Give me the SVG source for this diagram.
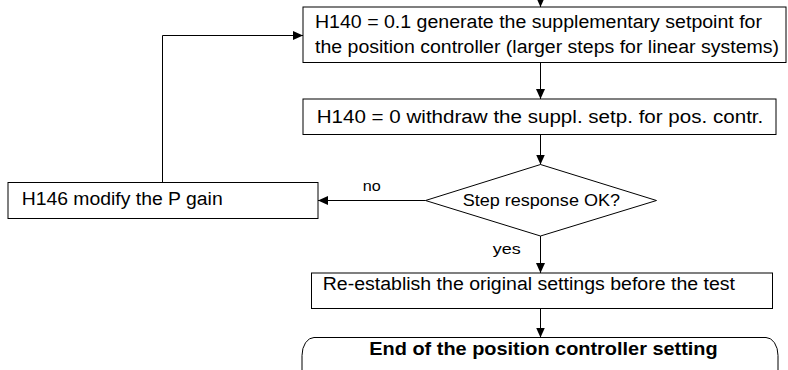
<svg xmlns="http://www.w3.org/2000/svg" width="788" height="370" viewBox="0 0 788 370">
  <style>
    .box { fill: #fff; stroke: #000; stroke-width: 1; }
    .line { fill: none; stroke: #000; stroke-width: 1; }
    .t { font-family: "Liberation Sans", Arial, sans-serif; font-size: 18px; fill: #000; }
    .small { font-size: 15px; }
    .dia { font-size: 17px; }
    .bold { font-weight: bold; }
  </style>
  <defs>
    <marker id="arrow" viewBox="0 0 10 10" refX="10" refY="5" markerWidth="10" markerHeight="10" markerUnits="userSpaceOnUse" orient="auto">
      <path d="M0,0.5 L10,5 L0,9.5 z" fill="#000"/>
    </marker>
  </defs>

  <g id="connectors">
    <path class="line" d="M540.5,0 V7" marker-end="url(#arrow)"/>
    <path class="line" d="M540.5,62.5 V99" marker-end="url(#arrow)"/>
    <path class="line" d="M540.5,134.5 V164.5" marker-end="url(#arrow)"/>
    <path class="line" d="M425.5,200.5 H318" marker-end="url(#arrow)"/>
    <path class="line" d="M162.5,182.5 V35.5 H303" marker-end="url(#arrow)"/>
    <path class="line" d="M540.5,236 V273" marker-end="url(#arrow)"/>
    <path class="line" d="M540.5,308.5 V337.5" marker-end="url(#arrow)"/>
    <text class="t small" x="362.7" y="191" textLength="18" lengthAdjust="spacingAndGlyphs">no</text>
    <text class="t small" x="492.7" y="254" textLength="28" lengthAdjust="spacingAndGlyphs">yes</text>
  </g>

  <g id="supplementary-setpoint">
    <rect class="box" x="303" y="7" width="483" height="55.5"/>
    <text class="t" x="315" y="27.5" textLength="447" lengthAdjust="spacingAndGlyphs">H140 = 0.1 generate the supplementary setpoint for</text>
    <text class="t" x="315" y="53" textLength="464" lengthAdjust="spacingAndGlyphs">the position controller (larger steps for linear systems)</text>
  </g>

  <g id="withdraw-setpoint">
    <rect class="box" x="303" y="99" width="473" height="35.5"/>
    <text class="t" x="316.7" y="123.3" textLength="446.6" lengthAdjust="spacingAndGlyphs">H140 = 0 withdraw the suppl. setp. for pos. contr.</text>
  </g>

  <g id="step-response">
    <polygon class="box" points="540.5,164.5 656.5,200.5 540.5,236 425.5,200.5"/>
    <text class="t dia" x="462.7" y="205.5" textLength="157.3" lengthAdjust="spacingAndGlyphs">Step response OK?</text>
  </g>

  <g id="modify-gain">
    <rect class="box" x="8" y="182.5" width="310" height="36"/>
    <text class="t" x="21.7" y="205" textLength="201" lengthAdjust="spacingAndGlyphs">H146 modify the P gain</text>
  </g>

  <g id="restore-settings">
    <rect class="box" x="311.5" y="273" width="461" height="35.5"/>
    <text class="t" x="322.7" y="289.5" textLength="412.3" lengthAdjust="spacingAndGlyphs">Re-establish the original settings before the test</text>
  </g>

  <g id="end">
    <rect class="box" x="302" y="337.5" width="476" height="60" rx="12" ry="18"/>
    <text class="t bold" x="369.3" y="355" textLength="348.4" lengthAdjust="spacingAndGlyphs">End of the position controller setting</text>
  </g>
</svg>
